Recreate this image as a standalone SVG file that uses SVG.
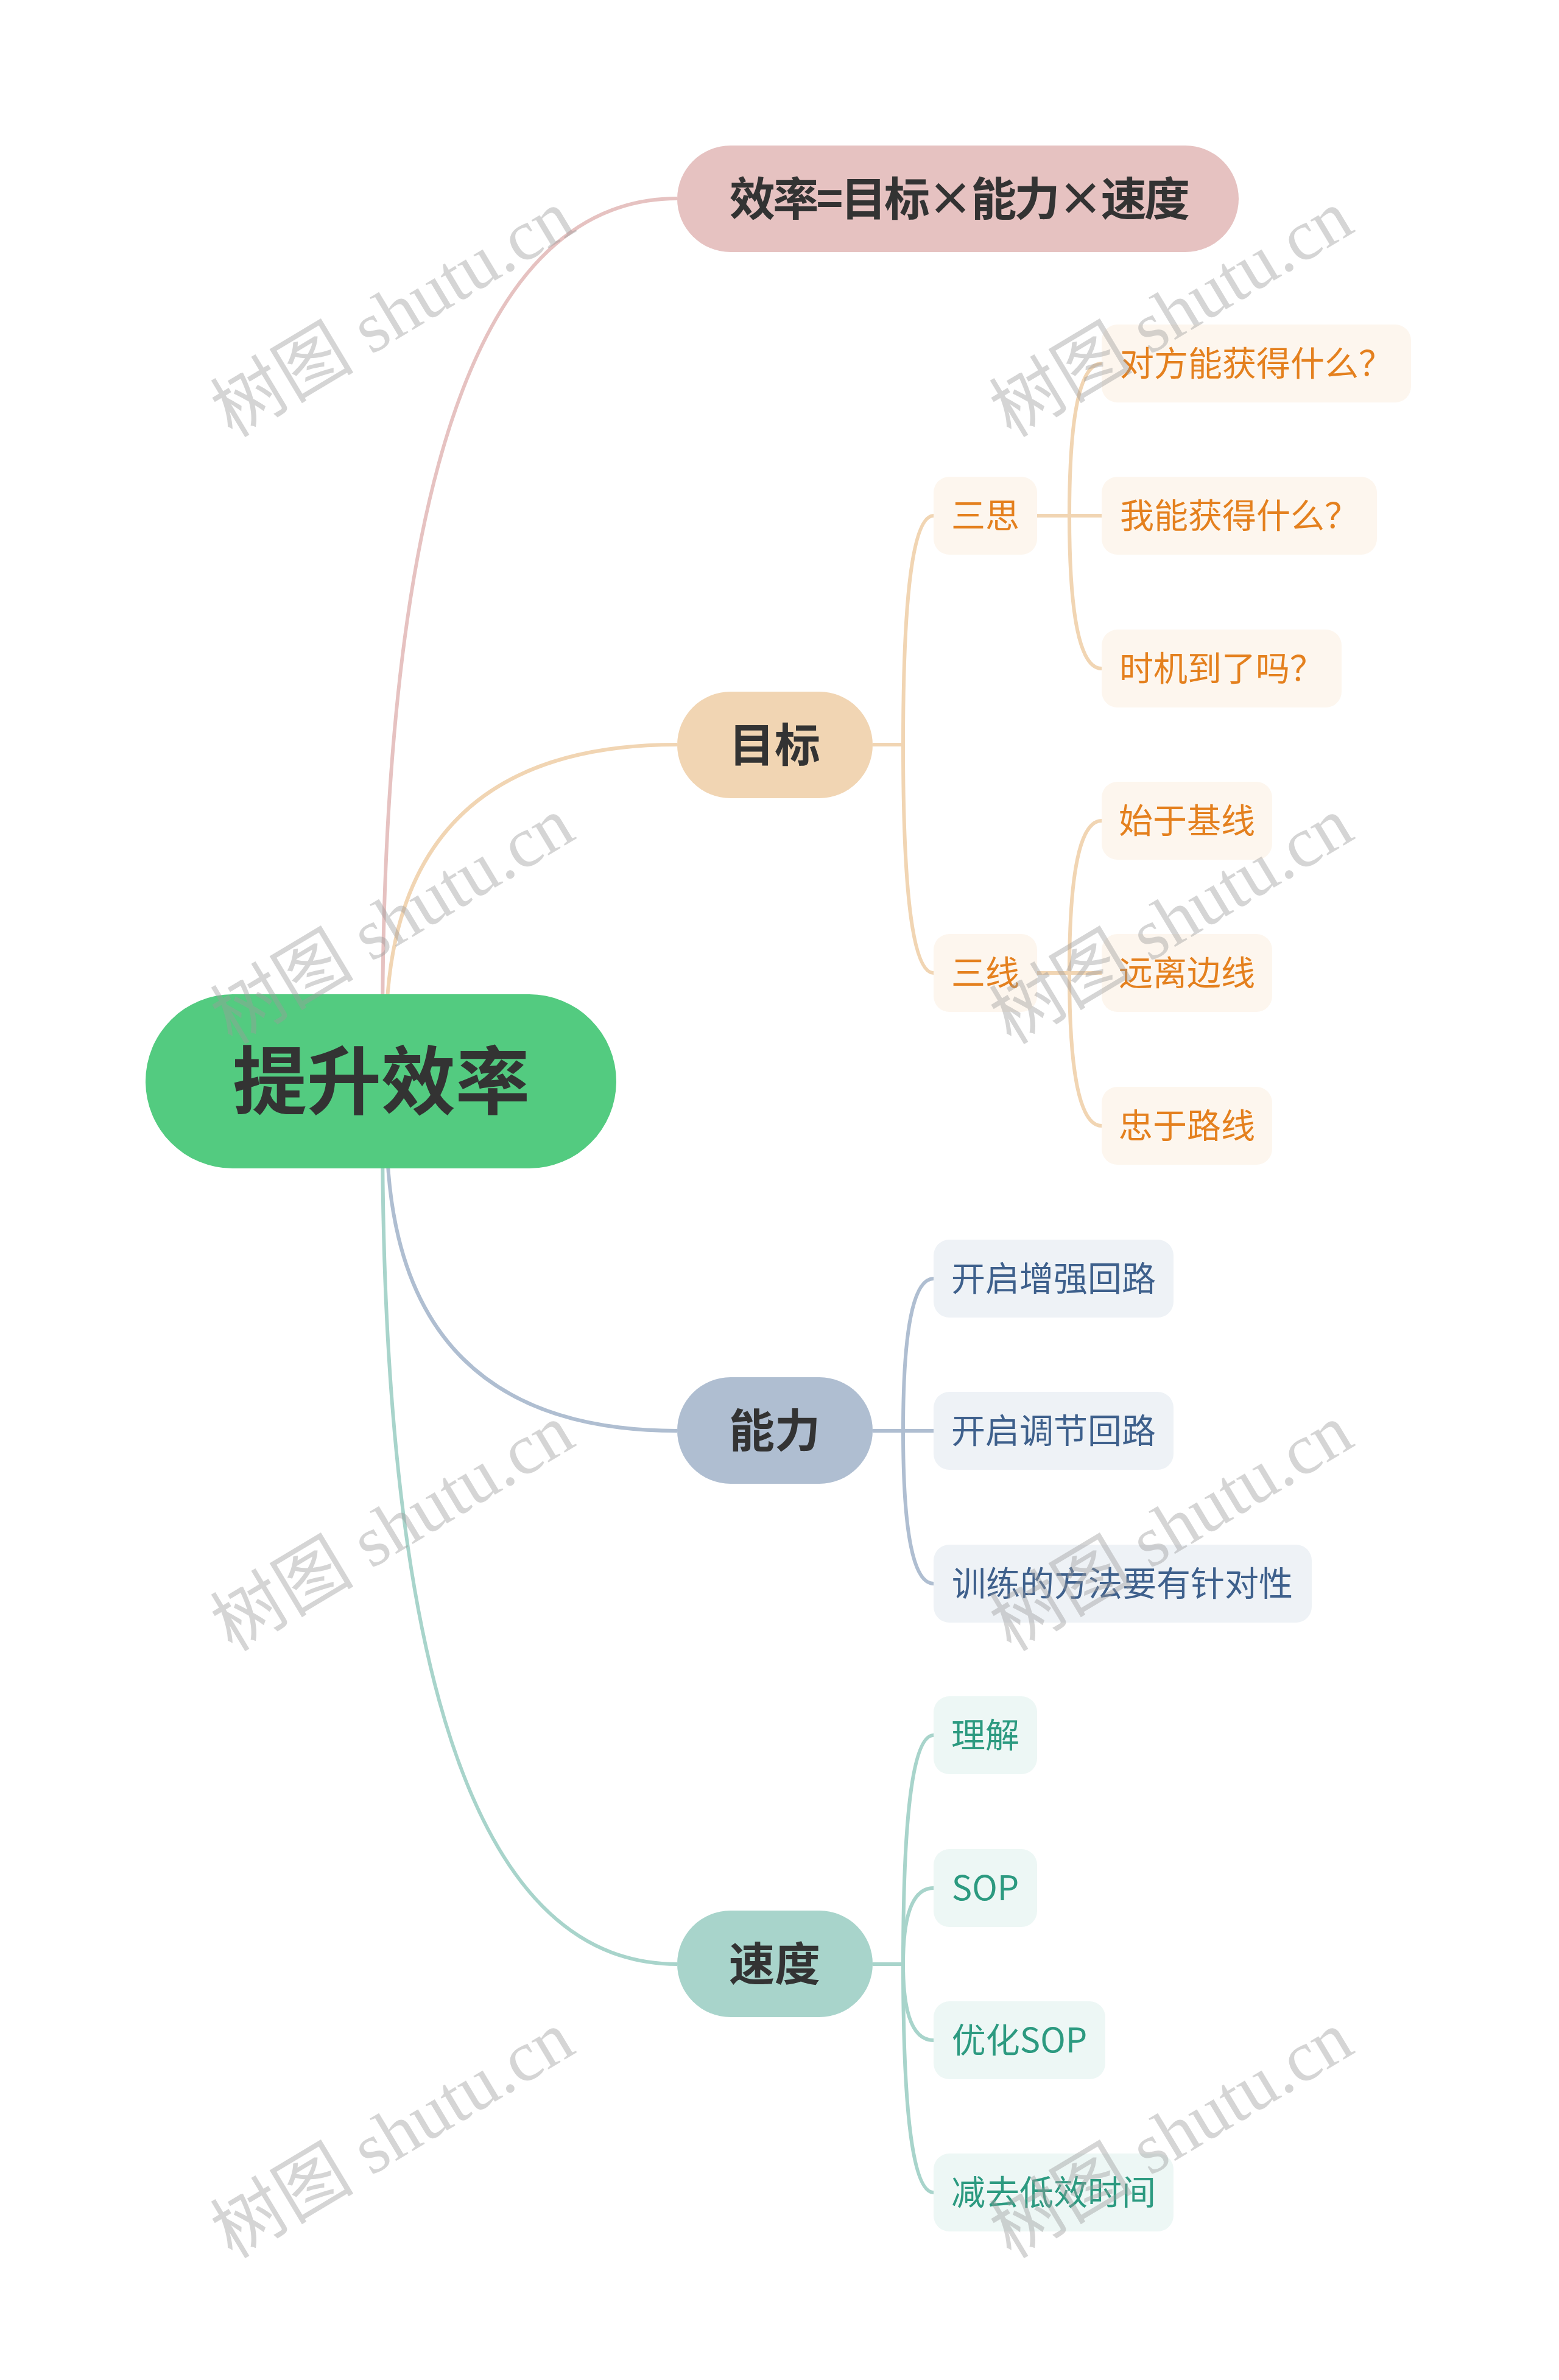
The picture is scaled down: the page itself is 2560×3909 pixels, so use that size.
<svg xmlns="http://www.w3.org/2000/svg" width="2560" height="3909" viewBox="0 0 2560 3909">
<style>
text{font-family:"Noto Sans CJK SC","Noto Sans",sans-serif;}
.root{fill:#53CB80;}
.rt{font-size:122px;font-weight:700;fill:#333333;text-anchor:middle;}
.l1t{font-size:75px;font-weight:700;fill:#333333;text-anchor:middle;}
.lt{font-size:56px;text-anchor:middle;}
.c{fill:none;stroke-width:6;}
.o{fill:#FDF6EE;} .ot{fill:#E4801E;}
.b{fill:#EEF2F6;} .bt{fill:#3E608C;}
.g{fill:#EDF7F5;} .gt{fill:#2C9A80;}
.wm{font-family:"Liberation Serif","Noto Sans CJK SC",serif;font-size:118px;fill:#9a9a9a;fill-opacity:0.42;text-anchor:middle;}
</style>
<rect width="2560" height="3909" fill="#ffffff"/>
<g id="connectors">
<path class="c" stroke="#E6C2C1" d="M628 1700 Q628 326 1112 326"/>
<path class="c" stroke="#F1D5B3" d="M634 1700 Q634 1223 1112 1223"/>
<path class="c" stroke="#AFBED1" d="M635 1852 Q635 2350 1112 2350"/>
<path class="c" stroke="#A8D4CB" d="M628 1852 Q628 3226 1112 3226"/>
<g stroke="#F1D5B3">
<path class="c" d="M1433 1223 H1483 Q1483 847 1533 847"/>
<path class="c" d="M1433 1223 H1483 Q1483 1598 1533 1598"/>
<path class="c" d="M1703 847 H1756 Q1756 597 1809 597"/>
<path class="c" d="M1703 847 H1809"/>
<path class="c" d="M1703 847 H1756 Q1756 1098 1809 1098"/>
<path class="c" d="M1703 1598 H1756 Q1756 1348 1809 1348"/>
<path class="c" d="M1703 1598 H1809"/>
<path class="c" d="M1703 1598 H1756 Q1756 1849 1809 1849"/>
</g>
<g stroke="#AFBED1">
<path class="c" d="M1433 2350 H1483 Q1483 2100 1533 2100"/>
<path class="c" d="M1433 2350 H1533"/>
<path class="c" d="M1433 2350 H1483 Q1483 2601 1533 2601"/>
</g>
<g stroke="#A8D4CB">
<path class="c" d="M1433 3226 H1483 Q1483 2850 1533 2850"/>
<path class="c" d="M1433 3226 H1483 Q1483 3101 1533 3101"/>
<path class="c" d="M1433 3226 H1483 Q1483 3351 1533 3351"/>
<path class="c" d="M1433 3226 H1483 Q1483 3601 1533 3601"/>
</g>
</g>
<g id="root"><rect class="root" x="239" y="1633" width="773" height="286" rx="143"/><text class="rt" x="626" y="1820">提升效率</text></g>
<g id="n-xiaolv"><rect x="1112" y="239" width="922" height="175" rx="87.5" fill="#E6C2C1"/><text class="l1t" x="1576" y="354" textLength="756" lengthAdjust="spacing">效率=目标×能力×速度</text></g>
<g id="n-mubiao"><rect x="1112" y="1136" width="321" height="175" rx="87.5" fill="#F1D5B3"/><text class="l1t" x="1272" y="1251">目标</text></g>
<g id="n-nengli"><rect x="1112" y="2262" width="321" height="175" rx="87.5" fill="#AFBED1"/><text class="l1t" x="1272" y="2377">能力</text></g>
<g id="n-sudu"><rect x="1112" y="3138" width="321" height="175" rx="87.5" fill="#A8D4CB"/><text class="l1t" x="1272" y="3253">速度</text></g>
<g id="n-sansi"><rect class="o" x="1533" y="783" width="170" height="128" rx="26"/><text class="lt ot" x="1618" y="867">三思</text></g>
<g id="n-sanxian"><rect class="o" x="1533" y="1534" width="170" height="128" rx="26"/><text class="lt ot" x="1618" y="1618">三线</text></g>
<g id="n-duifang"><rect class="o" x="1809" y="533" width="508" height="128" rx="26"/><text class="lt ot" x="2063" y="617">对方能获得什么？</text></g>
<g id="n-woneng"><rect class="o" x="1809" y="783" width="452" height="128" rx="26"/><text class="lt ot" x="2035" y="867">我能获得什么？</text></g>
<g id="n-shiji"><rect class="o" x="1809" y="1034" width="394" height="128" rx="26"/><text class="lt ot" x="2006" y="1118">时机到了吗？</text></g>
<g id="n-shiyu"><rect class="o" x="1809" y="1284" width="280" height="128" rx="26"/><text class="lt ot" x="1949" y="1368">始于基线</text></g>
<g id="n-yuanli"><rect class="o" x="1809" y="1534" width="280" height="128" rx="26"/><text class="lt ot" x="1949" y="1618">远离边线</text></g>
<g id="n-zhongyu"><rect class="o" x="1809" y="1785" width="280" height="128" rx="26"/><text class="lt ot" x="1949" y="1869">忠于路线</text></g>
<g id="n-zengqiang"><rect class="b" x="1533" y="2036" width="394" height="128" rx="26"/><text class="lt bt" x="1730" y="2120">开启增强回路</text></g>
<g id="n-tiaojie"><rect class="b" x="1533" y="2286" width="394" height="128" rx="26"/><text class="lt bt" x="1730" y="2370">开启调节回路</text></g>
<g id="n-xunlian"><rect class="b" x="1533" y="2537" width="621" height="128" rx="26"/><text class="lt bt" x="1843" y="2621">训练的方法要有针对性</text></g>
<g id="n-lijie"><rect class="g" x="1533" y="2786" width="170" height="128" rx="26"/><text class="lt gt" x="1618" y="2870">理解</text></g>
<g id="n-sop"><rect class="g" x="1533" y="3037" width="170" height="128" rx="26"/><text class="lt gt" x="1618" y="3121">SOP</text></g>
<g id="n-youhua"><rect class="g" x="1533" y="3287" width="282" height="128" rx="26"/><text class="lt gt" x="1674" y="3371">优化SOP</text></g>
<g id="n-jianqu"><rect class="g" x="1533" y="3537" width="394" height="128" rx="26"/><text class="lt gt" x="1730" y="3621">减去低效时间</text></g>
<g id="watermarks">
<text class="wm" x="645" y="555" transform="rotate(-31 645 516)">树图 shutu.cn</text>
<text class="wm" x="1924" y="555" transform="rotate(-31 1924 516)">树图 shutu.cn</text>
<text class="wm" x="645" y="1552" transform="rotate(-31 645 1513)">树图 shutu.cn</text>
<text class="wm" x="1924" y="1552" transform="rotate(-31 1924 1513)">树图 shutu.cn</text>
<text class="wm" x="645" y="2549" transform="rotate(-31 645 2510)">树图 shutu.cn</text>
<text class="wm" x="1924" y="2549" transform="rotate(-31 1924 2510)">树图 shutu.cn</text>
<text class="wm" x="645" y="3546" transform="rotate(-31 645 3507)">树图 shutu.cn</text>
<text class="wm" x="1924" y="3546" transform="rotate(-31 1924 3507)">树图 shutu.cn</text>
</g>
</svg>
